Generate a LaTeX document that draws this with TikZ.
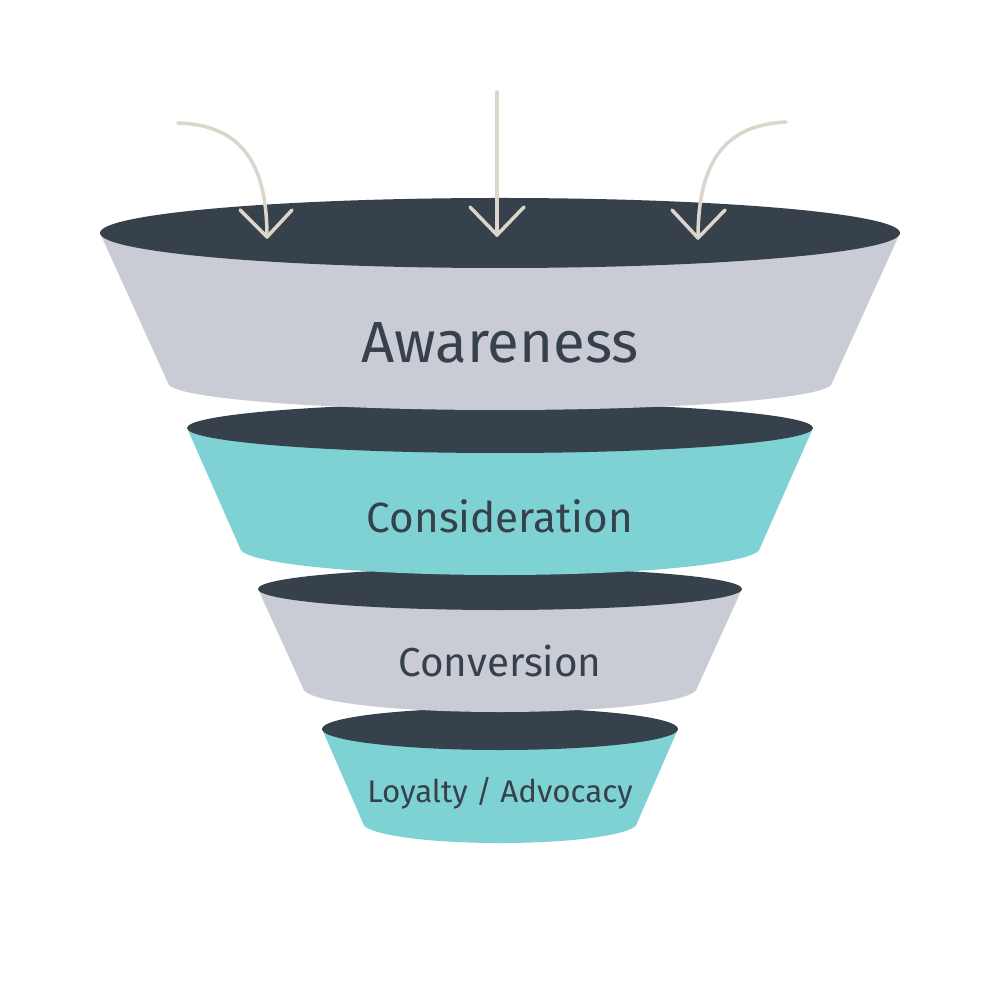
\documentclass[tikz,border=0pt]{standalone}
\usepackage{fontspec}
\setmainfont{Fira Sans}
\definecolor{darktop}{HTML}{37414B}
\definecolor{greybody}{HTML}{C9CCD4}
\definecolor{tealbody}{HTML}{7FD2D4}
\definecolor{arrowc}{HTML}{DCD5CB}
\begin{document}
\begin{tikzpicture}[
  topell/.style={fill=darktop},
  lbl/.style={text=darktop, inner sep=0pt},
  handarrow/.style={draw=arrowc, line width=1.0pt, line cap=round, line join=round}
]
\useasboundingbox[fill=white] (0,0) rectangle (10,-10);
% ---- tier 4: Loyalty / Advocacy
\fill[tealbody] (3.22,-7.29) -- (3.63,-8.23) arc[start angle=180, end angle=360, x radius=1.37, y radius=0.20] -- (6.78,-7.29) -- cycle;
\fill[topell] (5,-7.29) ellipse[x radius=1.78, y radius=0.21];
\node[lbl, font=\fontsize{8.9}{11}\selectfont] (loyal) at (5,-7.93) {Loyalty / Advocacy};
% ---- tier 3: Conversion
\fill[greybody] (2.58,-5.89) -- (3.03,-6.88) arc[start angle=180, end angle=360, x radius=1.97, y radius=0.24] -- (7.42,-5.89) -- cycle;
\fill[topell] (5,-5.89) ellipse[x radius=2.42, y radius=0.21];
\node[lbl, font=\fontsize{11.5}{14}\selectfont] (conv) at (5,-6.61) {Conversion};
% ---- tier 2: Consideration
\fill[tealbody] (1.87,-4.28) -- (2.40,-5.48) arc[start angle=180, end angle=360, x radius=2.60, y radius=0.27] -- (8.13,-4.28) -- cycle;
\fill[topell] (5,-4.28) ellipse[x radius=3.13, y radius=0.25];
\node[lbl, font=\fontsize{12.0}{15}\selectfont] (consid) at (5,-5.16) {Consideration};
% ---- tier 1: Awareness
\fill[greybody] (1.00,-2.33) -- (1.68,-3.83) arc[start angle=180, end angle=360, x radius=3.32, y radius=0.27] -- (9.00,-2.33) -- cycle;
\fill[topell] (5,-2.33) ellipse[x radius=4.00, y radius=0.35];
\node[lbl, font=\fontsize{16.5}{19}\selectfont] (aware) at (5,-3.43) {Awareness};
% ---- arrows
\coordinate (a1s) at (1.78,-1.23);
\coordinate (a1t) at (2.67,-2.37);
\coordinate (a2s) at (4.97,-0.92);
\coordinate (a2t) at (4.97,-2.35);
\coordinate (a3s) at (7.86,-1.22);
\coordinate (a3t) at (6.98,-2.38);
\draw[handarrow] (a1s) .. controls (2.35,-1.25) and (2.67,-1.55) .. (a1t);
\draw[handarrow] ([shift={(-0.27,0.27)}]a1t) -- (a1t) -- ([shift={(0.25,0.27)}]a1t);
\draw[handarrow] (a2s) -- (a2t);
\draw[handarrow] ([shift={(-0.27,0.28)}]a2t) -- (a2t) -- ([shift={(0.27,0.28)}]a2t);
\draw[handarrow] (a3s) .. controls (7.3,-1.25) and (6.98,-1.55) .. (a3t);
\draw[handarrow] ([shift={(-0.26,0.28)}]a3t) -- (a3t) -- ([shift={(0.27,0.28)}]a3t);
\end{tikzpicture}
\end{document}
